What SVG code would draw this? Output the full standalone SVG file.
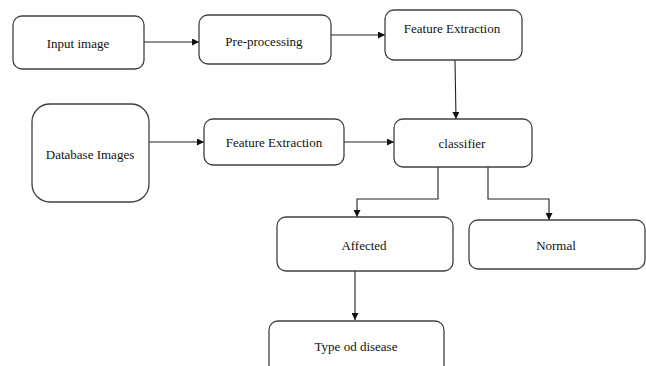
<svg xmlns="http://www.w3.org/2000/svg" width="646" height="366" viewBox="0 0 646 366">
<style>
.box{fill:#fff;stroke:#404040;stroke-width:1.3}
.lbl{font-family:"Liberation Serif","Times New Roman",serif;font-size:13px;fill:#111;text-anchor:middle;dominant-baseline:central}
.con{fill:none;stroke:#222;stroke-width:1.1}
</style>
<defs>
<marker id="ah" viewBox="0 0 10 10" refX="10" refY="5" markerWidth="7" markerHeight="7" markerUnits="userSpaceOnUse" orient="auto">
<path d="M0,0 L10,5 L0,10 z" fill="#111"/>
</marker>
</defs>
<rect width="646" height="366" fill="#fff"/>
<g id="connectors">
<path class="con" d="M144,42 H199" marker-end="url(#ah)"/>
<path class="con" d="M331,35 H385" marker-end="url(#ah)"/>
<path class="con" d="M455,60 L456,119" marker-end="url(#ah)"/>
<path class="con" d="M149,142 H204" marker-end="url(#ah)"/>
<path class="con" d="M344,142 H394" marker-end="url(#ah)"/>
<path class="con" d="M438,167 V199 H357 V217" marker-end="url(#ah)"/>
<path class="con" d="M488,167 V199 H549 V220" marker-end="url(#ah)"/>
<path class="con" d="M355,271 V320" marker-end="url(#ah)"/>
</g>
<g id="input-image"><rect class="box" x="13" y="16" width="131" height="53" rx="9"/><text class="lbl" x="78" y="43">Input image</text></g>
<g id="pre-processing"><rect class="box" x="199" y="15" width="132" height="49" rx="9"/><text class="lbl" x="264" y="41">Pre-processing</text></g>
<g id="feature-extraction-1"><rect class="box" x="385" y="10" width="137" height="50" rx="9"/><text class="lbl" x="452" y="28">Feature Extraction</text></g>
<g id="database-images"><rect class="box" x="32" y="104" width="117" height="98" rx="18"/><text class="lbl" x="90" y="154">Database Images</text></g>
<g id="feature-extraction-2"><rect class="box" x="204" y="119" width="140" height="46" rx="9"/><text class="lbl" x="274" y="142">Feature Extraction</text></g>
<g id="classifier"><rect class="box" x="394" y="119" width="138" height="48" rx="9"/><text class="lbl" x="462" y="143">classifier</text></g>
<g id="affected"><rect class="box" x="277" y="217" width="176" height="54" rx="9"/><text class="lbl" x="364" y="245">Affected</text></g>
<g id="normal"><rect class="box" x="469" y="220" width="176" height="49" rx="9"/><text class="lbl" x="556" y="245">Normal</text></g>
<g id="type-od-disease"><rect class="box" x="269" y="321" width="175" height="60" rx="9"/><text class="lbl" x="356" y="346">Type od disease</text></g>
</svg>
